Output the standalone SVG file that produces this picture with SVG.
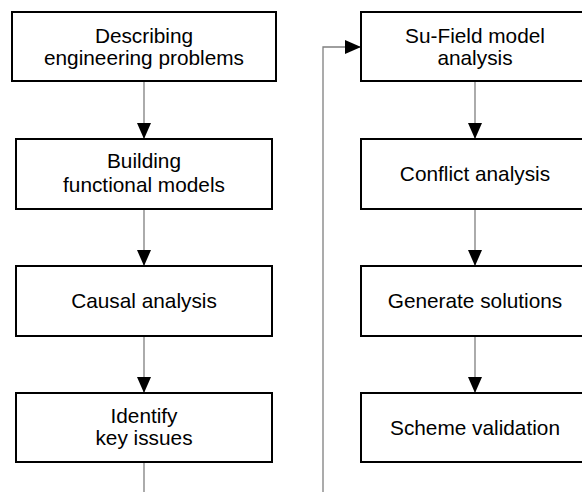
<svg xmlns="http://www.w3.org/2000/svg" width="582" height="492" viewBox="0 0 582 492">
<style>
.box{fill:#fff;stroke:#000;stroke-width:2}
.t{font-family:"Liberation Sans",Arial,sans-serif;font-size:20.8px;fill:#000;text-anchor:middle}
.c{fill:none;stroke:#7f7f7f;stroke-width:1.3}
</style>
<defs>
<marker id="ah" markerUnits="userSpaceOnUse" markerWidth="16" markerHeight="14" viewBox="0 0 16 14" refX="16" refY="7" orient="auto">
<path d="M0,0 L16,7 L0,14 Z" fill="#000"/>
</marker>
</defs>
<rect width="582" height="492" fill="#fff"/>
<g id="connectors">
<line class="c" x1="144" y1="81" x2="144" y2="139" marker-end="url(#ah)"/>
<line class="c" x1="144" y1="209" x2="144" y2="266" marker-end="url(#ah)"/>
<line class="c" x1="144" y1="336" x2="144" y2="393" marker-end="url(#ah)"/>
<line class="c" x1="144" y1="462" x2="144" y2="492"/>
<polyline class="c" points="323,492 323,47 361,47" marker-end="url(#ah)"/>
<line class="c" x1="475" y1="81" x2="475" y2="139" marker-end="url(#ah)"/>
<line class="c" x1="475" y1="209" x2="475" y2="266" marker-end="url(#ah)"/>
<line class="c" x1="475" y1="336" x2="475" y2="393" marker-end="url(#ah)"/>
</g>
<g id="n1"><rect class="box" x="12" y="12" width="264" height="69"/><text class="t" x="144" y="42.7">Describing</text><text class="t" x="144" y="65">engineering problems</text></g>
<g id="n2"><rect class="box" x="16" y="139" width="256" height="70"/><text class="t" x="144" y="167.7">Building</text><text class="t" x="144" y="191.5">functional models</text></g>
<g id="n3"><rect class="box" x="16" y="266" width="256" height="70"/><text class="t" x="144" y="308">Causal analysis</text></g>
<g id="n4"><rect class="box" x="16" y="393" width="256" height="69"/><text class="t" x="144" y="422.7">Identify</text><text class="t" x="144" y="445">key issues</text></g>
<g id="n5"><rect class="box" x="361" y="12" width="228" height="69"/><text class="t" x="475" y="42.7">Su-Field model</text><text class="t" x="475" y="65">analysis</text></g>
<g id="n6"><rect class="box" x="361" y="139" width="228" height="70"/><text class="t" x="475" y="181">Conflict analysis</text></g>
<g id="n7"><rect class="box" x="361" y="266" width="228" height="70"/><text class="t" x="475" y="308">Generate solutions</text></g>
<g id="n8"><rect class="box" x="361" y="393" width="228" height="69"/><text class="t" x="475" y="435">Scheme validation</text></g>
</svg>
